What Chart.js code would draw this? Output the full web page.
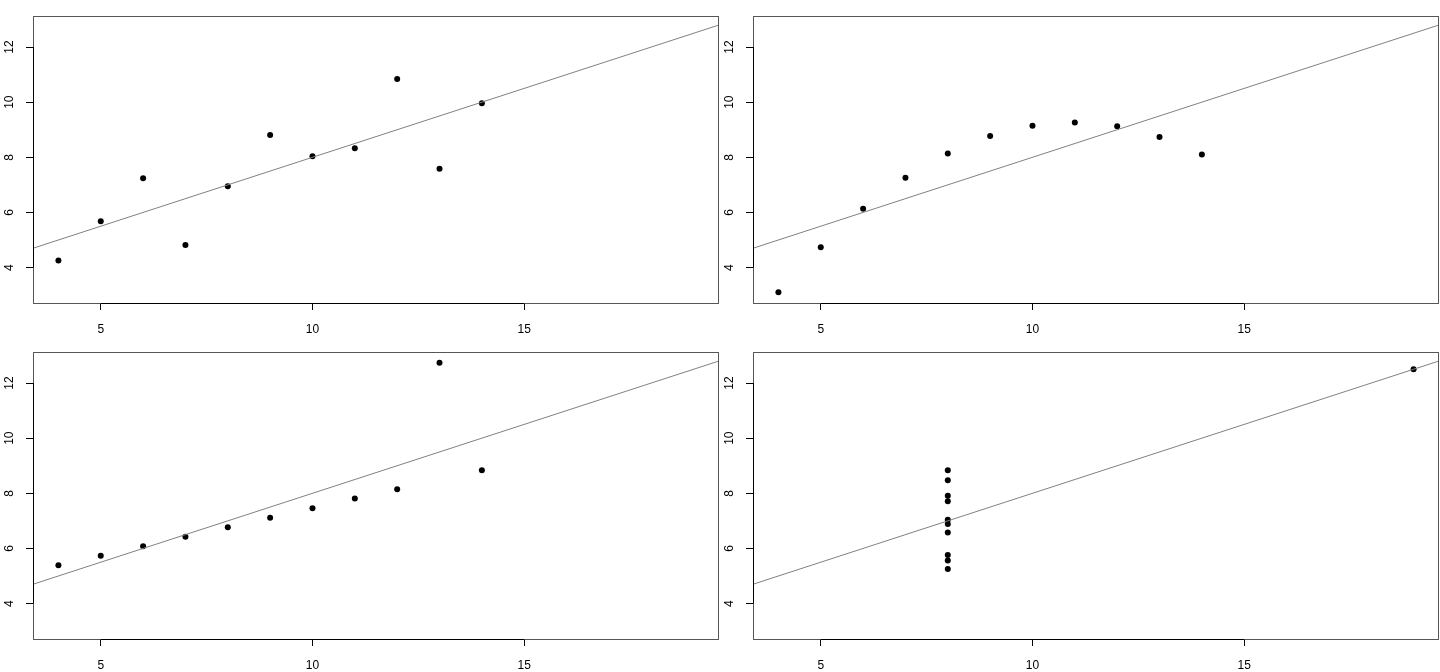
<!DOCTYPE html>
<html>
<head>
<meta charset="utf-8">
<script src="https://cdn.jsdelivr.net/npm/chart.js@4/dist/chart.umd.min.js"></script>
<style>
  html, body { margin: 0; padding: 0; background: #fff; }
  #wrap { position: relative; width: 1440px; height: 672px; }
  .cell { position: absolute; width: 720px; height: 336px; }
</style>
</head>
<body>
<div id="wrap">
  <div class="cell" style="left:0;top:0"><canvas id="c1"></canvas></div>
  <div class="cell" style="left:720px;top:0"><canvas id="c2"></canvas></div>
  <div class="cell" style="left:0;top:336px"><canvas id="c3"></canvas></div>
  <div class="cell" style="left:720px;top:336px"><canvas id="c4"></canvas></div>
</div>
<script>
// Anscombe's quartet
const x123 = [10, 8, 13, 9, 11, 14, 6, 4, 12, 7, 5];
const x4 = [8, 8, 8, 8, 8, 8, 8, 19, 8, 8, 8];
const y1 = [8.04, 6.95, 7.58, 8.81, 8.33, 9.96, 7.24, 4.26, 10.84, 4.82, 5.68];
const y2 = [9.14, 8.14, 8.74, 8.77, 9.26, 8.10, 6.13, 3.10, 9.13, 7.26, 4.74];
const y3 = [7.46, 6.77, 12.74, 7.11, 7.81, 8.84, 6.08, 5.39, 8.15, 6.42, 5.73];
const y4 = [6.58, 5.76, 7.71, 8.84, 8.47, 7.04, 5.25, 12.50, 5.56, 7.91, 6.89];

// fitted line endpoints (same in all four panels)
const lineX = [3.4, 19.6];
const lineY = [4.7, 12.8];

const xTicks = [5, 10, 15];
const yTicks = [4, 6, 8, 10, 12];
const xRange = [3.4, 19.6];
const yRange = [2.714, 13.126];

const FONT = 'Liberation Sans, Arial, Helvetica, sans-serif';

// box around the plot + R-style axis lines between first and last tick
const framePlugin = {
    id: 'frame',
    afterDraw(chart) {
        const ctx = chart.ctx;
        const a = chart.chartArea;
        const xs = chart.scales.x;
        const ys = chart.scales.y;
        ctx.save();
        ctx.strokeStyle = '#555';
        ctx.lineWidth = 1;
        ctx.strokeRect(a.left + 0.5, a.top + 0.5, a.right - a.left - 1, a.bottom - a.top);
        ctx.strokeStyle = '#000';
        ctx.beginPath();
        ctx.moveTo(xs.getPixelForValue(xTicks[0]), a.bottom + 0.5);
        ctx.lineTo(xs.getPixelForValue(xTicks[xTicks.length - 1]), a.bottom + 0.5);
        ctx.moveTo(a.left + 0.5, ys.getPixelForValue(yTicks[0]));
        ctx.lineTo(a.left + 0.5, ys.getPixelForValue(yTicks[yTicks.length - 1]));
        ctx.stroke();
        ctx.restore();
    }
};

function toPoints(xs, ys) {
    return xs.map((x, i) => ({ x: x, y: ys[i] }));
}

function makePanel(id, xs, ys) {
    const ctx = document.getElementById(id).getContext('2d');
    new Chart(ctx, {
        type: 'scatter',
        data: {
            datasets: [{
                type: 'line',
                data: toPoints(lineX, lineY),
                borderColor: '#808080',
                borderWidth: 1,
                pointRadius: 0,
                fill: false
            }, {
                data: toPoints(xs, ys),
                backgroundColor: '#000',
                borderColor: '#000',
                pointRadius: 3,
                pointBorderWidth: 0
            }]
        },
        options: {
            responsive: true,
            maintainAspectRatio: false,
            animation: false,
            events: [],
            layout: { autoPadding: false, padding: { top: 16, right: 1, left: 0, bottom: 0 } },
            plugins: { legend: { display: false }, tooltip: { enabled: false } },
            scales: {
                x: {
                    type: 'linear',
                    min: xRange[0],
                    max: xRange[1],
                    afterBuildTicks: axis => { axis.ticks = xTicks.map(v => ({ value: v })); },
                    afterFit: axis => { axis.height = 33; axis.paddingLeft = 0; axis.paddingRight = 0; },
                    grid: { drawOnChartArea: false, drawTicks: true, tickLength: 7, color: '#000' },
                    border: { display: false },
                    ticks: { color: '#000', font: { family: FONT, size: 12 }, padding: 12, maxRotation: 0 }
                },
                y: {
                    type: 'linear',
                    min: yRange[0],
                    max: yRange[1],
                    afterBuildTicks: axis => { axis.ticks = yTicks.map(v => ({ value: v })); },
                    afterFit: axis => { axis.width = 33; axis.paddingTop = 0; axis.paddingBottom = 0; },
                    grid: { drawOnChartArea: false, drawTicks: true, tickLength: 7, color: '#000' },
                    border: { display: false },
                    ticks: {
                        color: '#000', font: { family: FONT, size: 12 },
                        minRotation: 90, maxRotation: 90, crossAlign: 'center', padding: 10
                    }
                }
            }
        },
        plugins: [framePlugin]
    });
}

makePanel('c1', x123, y1);
makePanel('c2', x123, y2);
makePanel('c3', x123, y3);
makePanel('c4', x4, y4);
</script>
</body>
</html>
